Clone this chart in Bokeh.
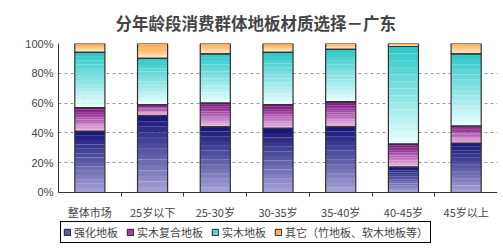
from bokeh.plotting import figure
from bokeh.models import (ColumnDataSource, FixedTicker, Legend, LegendItem,
                          NumeralTickFormatter, Range1d)
from bokeh.embed import file_html
from bokeh.resources import INLINE

categories = ["整体市场", "25岁以下", "25-30岁", "30-35岁", "35-40岁", "40-45岁", "45岁以上"]
series_names = ["强化地板", "实木复合地板", "实木地板", "其它（竹地板、软木地板等）"]
laminate = [41, 51.5, 44, 43, 44, 17, 33]
engineered = [16, 7.5, 16, 16, 17, 15.5, 11.5]
solid = [37, 31, 33, 35, 35, 65.5, 48.5]
other = [6, 10, 7, 6, 4, 2, 7]
series = [laminate, engineered, solid, other]
y_ticks = [0, 0.2, 0.4, 0.6, 0.8, 1.0]

# gradient ends (top colour, bottom colour) and legend swatch colour
grad = [((20, 20, 120), (170, 165, 215)),
        ((120, 10, 120), (235, 185, 235)),
        ((45, 200, 200), (235, 255, 255)),
        ((255, 150, 40), (255, 235, 195))]
swatch = ["#5a5aa8", "#a040a0", "#60d0d0", "#ffb060"]

FONT = "Noto Sans CJK SC"

# frame runs down to the bottom of the window; the x axis sits at y = 0
p = figure(frame_width=439, frame_height=208, output_backend="svg",
           toolbar_location=None,
           x_range=Range1d(0, 7), y_range=Range1d(-0.396, 1.0),
           min_border_left=58, min_border_right=6, min_border_top=42,
           min_border_bottom=0)
p.title.text = "分年龄段消费群体地板材质选择－广东"
p.title.align = "left"
p.title.offset = 57
p.title.text_font = FONT
p.title.text_font_size = "16.5px"
p.title.text_font_style = "bold"
p.title.standoff = 17

n = len(categories)
xs = [i + 0.5 for i in range(n)]
W = 0.48
NS = 14

# gradient slices
lefts, rights, bottoms, tops, colors = [], [], [], [], []
base = [0.0] * n
for s, vals in enumerate(series):
    (r1, g1, b1), (r2, g2, b2) = grad[s]
    for i in range(n):
        lo = base[i]
        hi = base[i] + vals[i] / 100.0
        for k in range(NS):
            a = lo + (hi - lo) * k / NS
            b = lo + (hi - lo) * (k + 1) / NS
            t = (k + 0.5) / NS  # 0 bottom -> 1 top
            c = (int(r2 + (r1 - r2) * t), int(g2 + (g1 - g2) * t), int(b2 + (b1 - b2) * t))
            lefts.append(xs[i] - W / 2)
            rights.append(xs[i] + W / 2)
            bottoms.append(a)
            tops.append(b + 0.0005)
            colors.append("#%02x%02x%02x" % c)
    base = [base[i] + vals[i] / 100.0 for i in range(n)]

p.quad(left=lefts, right=rights, bottom=bottoms, top=tops, fill_color=colors,
       line_color=None)

# segment outlines
base = [0.0] * n
for s, vals in enumerate(series):
    src = ColumnDataSource(dict(x=xs, bottom=base,
                                top=[base[i] + vals[i] / 100.0 for i in range(n)]))
    p.vbar(x="x", bottom="bottom", top="top", width=W, source=src,
           fill_color=None, line_color="#333333", line_width=1.2)
    base = [base[i] + vals[i] / 100.0 for i in range(n)]

# legend proxies (off-range, zero size; only their swatches are shown)
items = []
for s, name in enumerate(series_names):
    r = p.vbar(x=[-5], bottom=[-5], top=[-5], width=0.0001,
               fill_color=swatch[s], line_color="#222222")
    items.append(LegendItem(label=name, renderers=[r]))
legend = Legend(items=items, orientation="horizontal", location=(2, 8),
                label_text_font=FONT, label_text_font_size="11px",
                glyph_width=8, glyph_height=8, spacing=8, label_standoff=3,
                padding=2, margin=0, border_line_color="#000000",
                border_line_alpha=1, border_line_width=1, label_height=12,
                background_fill_alpha=1)
p.add_layout(legend, "center")

# axes
p.xaxis.fixed_location = 0
p.xaxis.ticker = FixedTicker(ticks=xs, minor_ticks=list(range(1, n)))
p.xaxis.major_label_overrides = {x: c for x, c in zip(xs, categories)}
p.xaxis.major_tick_out = 0
p.xaxis.major_tick_in = 0
p.xaxis.minor_tick_out = 4
p.xaxis.minor_tick_in = 0
p.xaxis.major_label_text_font = FONT
p.xaxis.major_label_text_font_size = "11px"
p.xaxis.major_label_standoff = 8
p.xaxis.axis_line_color = "#333333"
p.xaxis.minor_tick_line_color = "#333333"

p.yaxis.bounds = (0, 1)
p.yaxis.ticker = FixedTicker(ticks=y_ticks)
p.yaxis.formatter = NumeralTickFormatter(format="0%")
p.yaxis.major_tick_out = 0
p.yaxis.major_tick_in = 0
p.yaxis.minor_tick_line_color = None
p.yaxis.major_label_text_font = "Liberation Sans"
p.yaxis.major_label_text_font_size = "11px"
p.yaxis.axis_line_color = "#333333"

p.xgrid.grid_line_color = None
p.ygrid.grid_line_color = "#999999"
p.ygrid.grid_line_dash = "3 3"
p.outline_line_color = None

open("out.html", "w").write(file_html(p, INLINE))
